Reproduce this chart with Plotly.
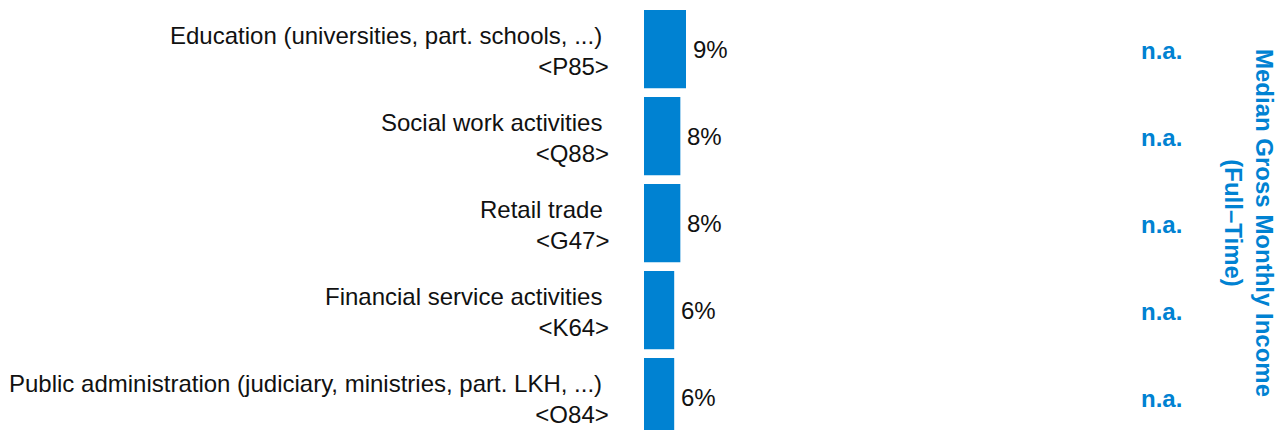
import plotly.graph_objects as go

categories = [
    "Education (universities, part. schools, ...)",
    "Social work activities",
    "Retail trade",
    "Financial service activities",
    "Public administration (judiciary, ministries, part. LKH, ...)",
]
codes = ["P85", "Q88", "G47", "K64", "O84"]
shares = [8.9, 7.7, 7.7, 6.4, 6.4]
income_labels = ["n.a.", "n.a.", "n.a.", "n.a.", "n.a."]
side_title = "Median Gross Monthly Income<br>(Full\u2013Time)"

BLUE = "#0082D2"
FONT = "Liberation Sans, Arial, Helvetica, sans-serif"
W, H = 1282, 430

fig = go.Figure()
fig.add_trace(go.Bar(
    x=shares,
    y=categories,
    orientation="h",
    marker=dict(color=BLUE, line=dict(width=0)),
    width=0.9,
    hoverinfo="skip",
))

annotations = []
for cat, v in zip(categories, shares):
    annotations.append(dict(
        xref="x", yref="y", x=v, y=cat,
        xanchor="left", yanchor="middle",
        text=f"{v:.0f}%", showarrow=False, xshift=5,
        font=dict(family=FONT, size=24, color="#111111"),
    ))
for cat, code in zip(categories, codes):
    annotations.append(dict(
        xref="paper", yref="y", x=611 / W, y=cat,
        xanchor="right", yanchor="middle", align="right",
        text=f"{cat}\u00a0<br>&lt;{code}&gt;",
        showarrow=False,
        font=dict(family=FONT, size=24, color="#111111"),
        yshift=-2,
    ))
for cat, lab in zip(categories, income_labels):
    annotations.append(dict(
        xref="paper", yref="y", x=1161 / W, y=cat,
        xanchor="center", yanchor="middle",
        text=f"<b>{lab}</b>", showarrow=False,
        font=dict(family=FONT, size=24, color=BLUE),
        yshift=-1,
    ))
annotations.append(dict(
    xref="paper", yref="paper", x=1249 / W, y=1 - 223 / H,
    xanchor="center", yanchor="middle", align="center",
    text=f"<b>{side_title}</b>", textangle=90, showarrow=False,
    font=dict(family=FONT, size=24, color=BLUE),
))

s = 42 / 8.9
fig.update_layout(
    width=W, height=H,
    margin=dict(l=0, r=0, t=0, b=0),
    paper_bgcolor="white", plot_bgcolor="white",
    showlegend=False,
    xaxis=dict(range=[-644 / s, (W - 644) / s], visible=False,
               showgrid=False, zeroline=False, fixedrange=True),
    yaxis=dict(type="category", categoryorder="array", categoryarray=categories,
               range=[(H - 49.15) / 87, -49.15 / 87], visible=False,
               showgrid=False, zeroline=False, fixedrange=True),
    annotations=annotations,
)

fig.write_html(
    "out.html",
    config={"displayModeBar": False},
    post_script="document.body.style.margin='0px';document.body.style.overflow='hidden';",
)
